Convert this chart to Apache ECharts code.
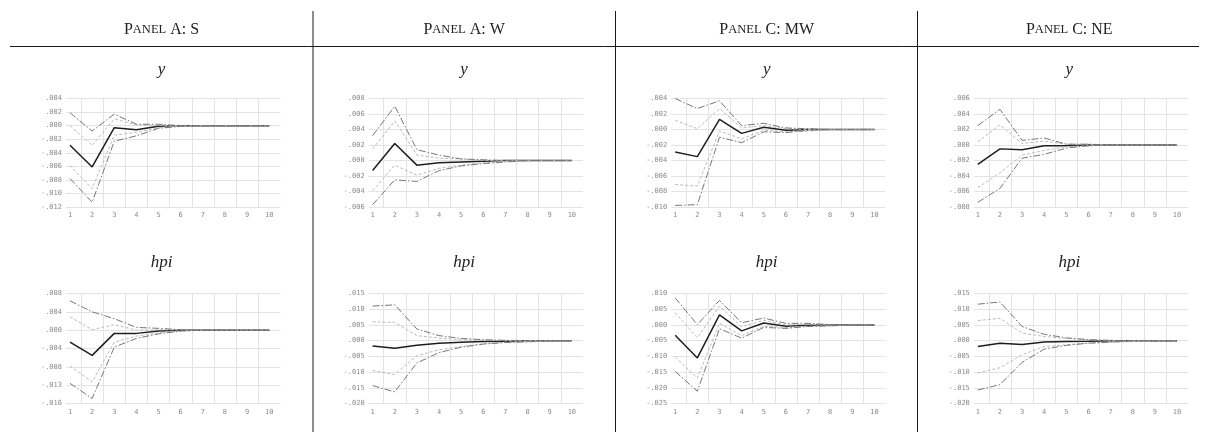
<!DOCTYPE html>
<html>
<head>
<meta charset="utf-8">
<title>Impulse responses by region</title>
<script src="https://cdn.jsdelivr.net/npm/echarts@6/dist/echarts.min.js"></script>
<style>
  html, body { margin: 0; padding: 0; background: #fff; }
  #chart { width: 1209px; height: 432px; }
</style>
</head>
<body>
<div id="chart"></div>
<script>
// Horizon steps and panel headings
const steps = [1, 2, 3, 4, 5, 6, 7, 8, 9, 10];
const panelTitles = ['Panel A: S', 'Panel A: W', 'Panel C: MW', 'Panel C: NE'];
const variableNames = ['y', 'hpi'];

// Panel A: S — response of y
const sY_outerHi = [0.0019, -0.0008, 0.0017, 0.0002, 0.0002, 0.0000, 0, 0, 0, 0];
const sY_innerHi = [0.0000, -0.0029, 0.0010, 0.0001, 0.0000, 0.0000, 0, 0, 0, 0];
const sY_irf     = [-0.0029, -0.0061, -0.0003, -0.0006, -0.0001, 0.0000, 0, 0, 0, 0];
const sY_innerLo = [-0.0059, -0.0093, -0.0014, -0.0010, -0.0003, -0.0001, 0, 0, 0, 0];
const sY_outerLo = [-0.0078, -0.0113, -0.0023, -0.0015, -0.0004, -0.0001, 0, 0, 0, 0];
const sY_ticks = ['-.012', '-.010', '-.008', '-.006', '-.004', '-.002', '.000', '.002', '.004'];

// Panel A: S — response of hpi
const sH_outerHi = [0.0064, 0.0040, 0.0025, 0.0006, 0.0004, 0.0001, 0, 0, 0, 0];
const sH_innerHi = [0.0029, 0.0001, 0.0012, 0.0000, 0.0001, 0.0000, 0, 0, 0, 0];
const sH_irf     = [-0.0026, -0.0055, -0.0007, -0.0007, -0.0002, 0.0000, 0, 0, 0, 0];
const sH_innerLo = [-0.0078, -0.0113, -0.0026, -0.0013, -0.0006, -0.0002, 0, 0, 0, 0];
const sH_outerLo = [-0.0116, -0.0149, -0.0037, -0.0018, -0.0008, -0.0002, 0, 0, 0, 0];
const sH_ticks = ['-.016', '-.013', '-.008', '-.004', '.000', '.004', '.008'];

// Panel A: W — response of y
const wY_outerHi = [0.0032, 0.0070, 0.0014, 0.0007, 0.0002, 0.0001, 0, 0, 0, 0];
const wY_innerHi = [0.0015, 0.0051, 0.0007, 0.0003, 0.0002, 0.0000, 0, 0, 0, 0];
const wY_irf     = [-0.0013, 0.0022, -0.0006, -0.0003, -0.0002, -0.0001, 0, 0, 0, 0];
const wY_innerLo = [-0.0039, -0.0006, -0.0019, -0.0010, -0.0006, -0.0003, -0.0001, 0, 0, 0];
const wY_outerLo = [-0.0057, -0.0025, -0.0027, -0.0013, -0.0007, -0.0004, -0.0002, 0, 0, 0];
const wY_ticks = ['-.006', '-.004', '-.002', '.000', '.002', '.004', '.006', '.008'];

// Panel A: W — response of hpi
const wH_outerHi = [0.0110, 0.0114, 0.0037, 0.0016, 0.0007, 0.0003, 0.0001, 0, 0, 0];
const wH_innerHi = [0.0060, 0.0058, 0.0016, 0.0008, 0.0003, 0.0001, 0, 0, 0, 0];
const wH_irf     = [-0.0017, -0.0024, -0.0015, -0.0008, -0.0005, -0.0003, -0.0002, 0, 0, 0];
const wH_innerLo = [-0.0095, -0.0108, -0.0048, -0.0029, -0.0019, -0.0010, -0.0005, -0.0003, 0, 0];
const wH_outerLo = [-0.0143, -0.0163, -0.0071, -0.0038, -0.0021, -0.0011, -0.0006, -0.0004, 0, 0];
const wH_ticks = ['-.020', '-.015', '-.010', '-.005', '.000', '.005', '.010', '.015'];

// Panel C: MW — response of y
const mY_outerHi = [0.0040, 0.0027, 0.0037, 0.0005, 0.0008, 0.0002, 0.0001, 0, 0, 0];
const mY_innerHi = [0.0012, 0.0001, 0.0027, 0.0002, 0.0005, 0.0001, 0, 0, 0, 0];
const mY_irf     = [-0.0029, -0.0035, 0.0013, -0.0005, 0.0003, -0.0001, 0, 0, 0, 0];
const mY_innerLo = [-0.0071, -0.0073, -0.0002, -0.0012, -0.0001, -0.0003, -0.0002, 0, 0, 0];
const mY_outerLo = [-0.0098, -0.0097, -0.0010, -0.0017, -0.0003, -0.0004, -0.0001, 0, 0, 0];
const mY_ticks = ['-.010', '-.008', '-.006', '-.004', '-.002', '.000', '.002', '.004'];

// Panel C: MW — response of hpi
const mH_outerHi = [0.0086, 0.0001, 0.0078, 0.0007, 0.0022, 0.0005, 0.0005, 0.0001, 0, 0];
const mH_innerHi = [0.0039, -0.0041, 0.0060, -0.0006, 0.0015, 0.0000, 0.0002, 0, 0, 0];
const mH_irf     = [-0.0033, -0.0105, 0.0032, -0.0019, 0.0006, -0.0004, -0.0001, 0, 0, 0];
const mH_innerLo = [-0.0102, -0.0169, 0.0005, -0.0034, -0.0004, -0.0008, -0.0004, -0.0003, 0, 0];
const mH_outerLo = [-0.0148, -0.0211, -0.0012, -0.0042, -0.0008, -0.0011, -0.0005, -0.0003, 0, 0];
const mH_ticks = ['-.025', '-.020', '-.015', '-.010', '-.005', '.000', '.005', '.010'];

// Panel C: NE — response of y
const nY_outerHi = [0.0025, 0.0046, 0.0006, 0.0009, 0.0001, 0.0001, 0, 0, 0, 0];
const nY_innerHi = [0.0004, 0.0026, 0.0002, 0.0005, 0.0001, 0.0001, 0, 0, 0, 0];
const nY_irf     = [-0.0025, -0.0005, -0.0006, -0.0001, -0.0001, 0, 0, 0, 0, 0];
const nY_innerLo = [-0.0055, -0.0036, -0.0013, -0.0007, -0.0002, -0.0001, 0, 0, 0, 0];
const nY_outerLo = [-0.0074, -0.0056, -0.0017, -0.0012, -0.0004, -0.0001, 0, 0, 0, 0];
const nY_ticks = ['-.008', '-.006', '-.004', '-.002', '.000', '.002', '.004', '.006'];

// Panel C: NE — response of hpi
const nH_outerHi = [0.0116, 0.0123, 0.0045, 0.0020, 0.0009, 0.0003, 0.0001, 0, 0, 0];
const nH_innerHi = [0.0064, 0.0071, 0.0024, 0.0013, 0.0007, 0.0003, 0, 0, 0, 0];
const nH_irf     = [-0.0019, -0.0008, -0.0012, -0.0004, -0.0003, -0.0002, 0, 0, 0, 0];
const nH_innerLo = [-0.0103, -0.0086, -0.0045, -0.0019, -0.0013, -0.0008, -0.0005, -0.0003, 0, 0];
const nH_outerLo = [-0.0157, -0.0140, -0.0069, -0.0027, -0.0015, -0.0008, -0.0005, 0, 0, 0];
const nH_ticks = ['-.020', '-.015', '-.010', '-.005', '.000', '.005', '.010', '.015'];

// Plot table: [column][row] -> bands, tick labels and y scale (min, max, step)
const plots = [
  [
    { bands: [sY_outerHi, sY_innerHi, sY_irf, sY_innerLo, sY_outerLo], ticks: sY_ticks, min: -0.012, max: 0.004, step: 0.002 },
    { bands: [sH_outerHi, sH_innerHi, sH_irf, sH_innerLo, sH_outerLo], ticks: sH_ticks, min: -0.016, max: 0.008, step: 0.004 }
  ],
  [
    { bands: [wY_outerHi, wY_innerHi, wY_irf, wY_innerLo, wY_outerLo], ticks: wY_ticks, min: -0.006, max: 0.008, step: 0.002 },
    { bands: [wH_outerHi, wH_innerHi, wH_irf, wH_innerLo, wH_outerLo], ticks: wH_ticks, min: -0.020, max: 0.015, step: 0.005 }
  ],
  [
    { bands: [mY_outerHi, mY_innerHi, mY_irf, mY_innerLo, mY_outerLo], ticks: mY_ticks, min: -0.010, max: 0.004, step: 0.002 },
    { bands: [mH_outerHi, mH_innerHi, mH_irf, mH_innerLo, mH_outerLo], ticks: mH_ticks, min: -0.025, max: 0.010, step: 0.005 }
  ],
  [
    { bands: [nY_outerHi, nY_innerHi, nY_irf, nY_innerLo, nY_outerLo], ticks: nY_ticks, min: -0.008, max: 0.006, step: 0.002 },
    { bands: [nH_outerHi, nH_innerHi, nH_irf, nH_innerLo, nH_outerLo], ticks: nH_ticks, min: -0.020, max: 0.015, step: 0.005 }
  ]
];

// Line look for each band: outer interval, inner interval, point response
const bandStyles = [
  { color: '#777777', width: 1, type: [7, 2, 1.5, 2] },
  { color: '#bcbcbc', width: 1, type: [3, 2] },
  { color: '#1e1e1e', width: 1.5, type: 'solid' },
  { color: '#bcbcbc', width: 1, type: [3, 2] },
  { color: '#777777', width: 1, type: [7, 2, 1.5, 2] }
];
// the point response sits underneath the interval lines
const bandZ = [4, 3, 2, 3, 4];

// Layout
const colPitch = 302.6;
const colCenter0 = 161.5;
const stepUnit = 22.14;        // px per horizon step
const firstStepX = 70;         // x of step 1 in the first column
const xMin = 0.82, xMax = 10.5;
const rowTop = [98.5, 293.5];
const rowHeight = [108.5, 110];
const rowLabelY = [70, 263];

const monoFont = '"DejaVu Sans Mono", "Liberation Mono", monospace';
const serifFont = '"Liberation Serif", "DejaVu Serif", serif';

// Small capitals: lowercase letters become reduced capitals
function smallCaps(text) {
  let out = '', cur = null, buf = '';
  const flush = () => { if (buf) out += '{' + cur + '|' + buf + '}'; buf = ''; };
  for (const ch of text) {
    const kind = (ch !== ch.toUpperCase()) ? 'sc' : 'cap';
    if (kind !== cur) { flush(); cur = kind; }
    buf += ch.toUpperCase();
  }
  flush();
  return out;
}

const grids = [], xAxes = [], yAxes = [], series = [];
const graphics = [];

plots.forEach((col, c) => {
  col.forEach((p, r) => {
    const gi = grids.length;
    const left = firstStepX + c * colPitch - (1 - xMin) * stepUnit;
    const width = (xMax - xMin) * stepUnit;
    grids.push({ left: left, top: rowTop[r], width: width, height: rowHeight[r] });
    xAxes.push({
      type: 'value', gridIndex: gi, min: xMin, max: xMax,
      axisLine: { show: false },
      axisTick: { show: false, customValues: steps.slice(0, -1).map(s => s + 0.5) },
      axisLabel: {
        customValues: steps, margin: 5, fontSize: 7, color: '#8a8a8a', fontFamily: monoFont
      },
      splitLine: { show: true, lineStyle: { color: '#e3e3e3', width: 1 } }
    });
    yAxes.push({
      type: 'value', gridIndex: gi, min: p.min, max: p.max, interval: p.step,
      axisLine: { show: false }, axisTick: { show: false },
      axisLabel: {
        margin: 4, fontSize: 7, color: '#8a8a8a', fontFamily: monoFont,
        formatter: (v) => p.ticks[Math.round((v - p.min) / p.step)] || ''
      },
      splitLine: { show: true, lineStyle: { color: '#e3e3e3', width: 1 } }
    });
    p.bands.forEach((vals, b) => {
      series.push({
        type: 'line', xAxisIndex: gi, yAxisIndex: gi,
        data: steps.map((s, i) => [s, vals[i]]),
        symbol: 'none', silent: true, animation: false,
        z: bandZ[b],
        lineStyle: bandStyles[b]
      });
    });
    // variable name above each plot
    graphics.push({
      type: 'text', x: colCenter0 + c * colPitch, y: rowLabelY[r],
      style: {
        text: variableNames[r], font: 'italic 17px ' + serifFont, fill: '#222',
        align: 'center', verticalAlign: 'middle'
      }
    });
  });
  // panel heading
  graphics.push({
    type: 'text', x: colCenter0 + c * colPitch, y: 30,
    style: {
      text: smallCaps(panelTitles[c]),
      align: 'center', verticalAlign: 'middle',
      rich: {
        cap: { fontFamily: serifFont, fontSize: 16, fill: '#222' },
        sc: { fontFamily: serifFont, fontSize: 12.5, fill: '#222' }
      }
    }
  });
});

// Table rules: one under the headings, three between the columns
graphics.push({
  type: 'line', shape: { x1: 10, y1: 46.5, x2: 1199, y2: 46.5 },
  style: { stroke: '#1a1a1a', lineWidth: 1 }
});
[313, 615.5, 917.5].forEach(x => {
  graphics.push({
    type: 'line', shape: { x1: x, y1: 11, x2: x, y2: 432 },
    style: { stroke: '#1a1a1a', lineWidth: 1 }
  });
});

const chart = echarts.init(document.getElementById('chart'), null, { renderer: 'canvas' });
chart.setOption({
  animation: false,
  backgroundColor: '#ffffff',
  grid: grids,
  xAxis: xAxes,
  yAxis: yAxes,
  series: series,
  graphic: graphics
});
</script>
</body>
</html>
